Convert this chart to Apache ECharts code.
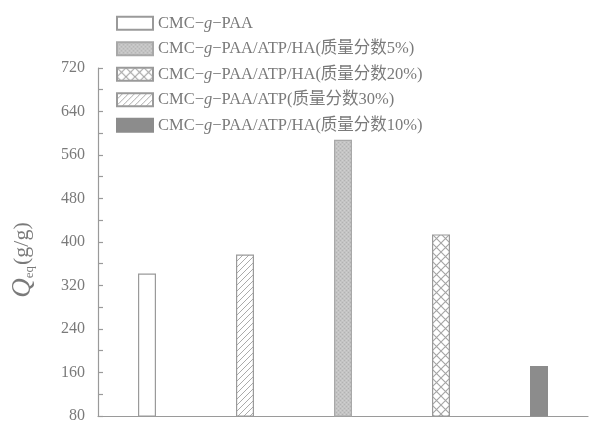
<!DOCTYPE html>
<html>
<head>
<meta charset="utf-8">
<script src="https://cdn.jsdelivr.net/npm/echarts@6/dist/echarts.min.js"></script>
<style>
  html, body { margin: 0; padding: 0; background: #fff; }
  #chart { width: 595px; height: 424px; }
</style>
</head>
<body>
<div id="chart"></div>
<script>
// Samples, in the order they sit along the x axis
const categories = [
  'CMC−g−PAA',
  'CMC−g−PAA/ATP(质量分数30%)',
  'CMC−g−PAA/ATP/HA(质量分数5%)',
  'CMC−g−PAA/ATP/HA(质量分数20%)',
  'CMC−g−PAA/ATP/HA(质量分数10%)'
];
// Equilibrium swelling ratio Qeq (g/g)
const qeq = [342, 377, 588, 414, 172];
// Legend lists the samples in this order (indices into categories)
const legendOrder = [0, 2, 3, 1, 4];
// Y axis range and step
const yMin = 80, yMax = 720, yStep = 80;

const SERIF = '"Liberation Serif", "Times New Roman", "Noto Sans CJK SC", serif';
const LINE = '#9a9a9a';
const TEXT = '#7a7a7a';

function makePattern(size, draw) {
  const c = document.createElement('canvas');
  c.width = size; c.height = size;
  const ctx = c.getContext('2d');
  draw(ctx, size);
  return { image: c, repeat: 'repeat' };
}

// Diagonal single hatching
const hatch = makePattern(6, (ctx, s) => {
  ctx.fillStyle = '#fff'; ctx.fillRect(0, 0, s, s);
  ctx.strokeStyle = '#ababab'; ctx.lineWidth = 1;
  ctx.beginPath();
  ctx.moveTo(-1, s + 1); ctx.lineTo(s + 1, -1);
  ctx.moveTo(-1, 1); ctx.lineTo(1, -1);
  ctx.moveTo(s - 1, s + 1); ctx.lineTo(s + 1, s - 1);
  ctx.stroke();
});

// Diamond cross-hatching
const cross = makePattern(9, (ctx, s) => {
  ctx.fillStyle = '#fff'; ctx.fillRect(0, 0, s, s);
  ctx.strokeStyle = '#a4a4a4'; ctx.lineWidth = 1.1;
  ctx.beginPath();
  ctx.moveTo(0, 0); ctx.lineTo(s, s);
  ctx.moveTo(s, 0); ctx.lineTo(0, s);
  ctx.stroke();
});

// Fine dotted light grey
const dotted = makePattern(4, (ctx, s) => {
  ctx.fillStyle = '#c4c4c4'; ctx.fillRect(0, 0, s, s);
  ctx.fillStyle = '#b2b2b2';
  ctx.fillRect(0, 0, 1, 1); ctx.fillRect(2, 2, 1, 1);
  ctx.fillStyle = '#d0d0d0';
  ctx.fillRect(2, 0, 1, 1); ctx.fillRect(0, 2, 1, 1);
});

const fills = ['#ffffff', hatch, dotted, cross, '#8c8c8c'];
const borders = [LINE, LINE, '#a8a8a8', LINE, '#8c8c8c'];

const series = categories.map((name, i) => ({
  name: name,
  type: 'bar',
  barWidth: 18,
  barGap: '-100%',
  data: categories.map((_, j) => (j === i ? qeq[i] : '-')),
  itemStyle: { color: fills[i], borderColor: borders[i], borderWidth: 1.2 },
  emphasis: { disabled: true },
  animation: false
}));

const chart = echarts.init(document.getElementById('chart'), null, { renderer: 'canvas' });
chart.setOption({
  animation: false,
  backgroundColor: '#fff',
  grid: { left: 98, right: 7, top: 68, bottom: 4, containLabel: false },
  legend: {
    data: legendOrder.map(i => categories[i]),
    orient: 'vertical',
    left: 116,
    top: 15,
    padding: 0,
    itemWidth: 36,
    itemHeight: 13,
    itemGap: 9,
    icon: 'rect',
    selectedMode: false,
    formatter: name => name.replace('−g−', '−{i|g}−'),
    textStyle: {
      fontFamily: SERIF,
      fontSize: 16.5,
      color: TEXT,
      rich: { i: { fontFamily: SERIF, fontSize: 16.5, fontStyle: 'italic', color: TEXT } }
    }
  },
  xAxis: {
    type: 'category',
    data: categories,
    axisLine: { show: true, lineStyle: { color: LINE, width: 1.2 } },
    axisTick: { show: false },
    axisLabel: { show: false },
    splitLine: { show: false }
  },
  yAxis: {
    type: 'value',
    min: yMin,
    max: yMax,
    interval: yStep,
    name: '{q|Q}{s|eq}{u|(g/g)}',
    nameLocation: 'middle',
    nameRotate: 90,
    nameGap: 62,
    nameTextStyle: {
      padding: [0, 36, 0, 0],
      rich: {
        q: { fontFamily: SERIF, fontStyle: 'italic', fontSize: 27, color: TEXT },
        s: { fontFamily: SERIF, fontSize: 13, color: TEXT, verticalAlign: 'bottom', padding: [10, 1, 0, 0] },
        u: { fontFamily: SERIF, fontSize: 22, color: TEXT }
      }
    },
    axisLine: { show: true, lineStyle: { color: LINE, width: 1.2 } },
    axisTick: { show: true, inside: true, length: 5, lineStyle: { color: LINE, width: 1.2 } },
    minorTick: { show: true, splitNumber: 2, length: 5, lineStyle: { color: LINE, width: 1.2 } },
    axisLabel: { fontFamily: SERIF, fontSize: 16, color: TEXT, margin: 13 },
    splitLine: { show: false }
  },
  series: series
});
</script>
</body>
</html>
